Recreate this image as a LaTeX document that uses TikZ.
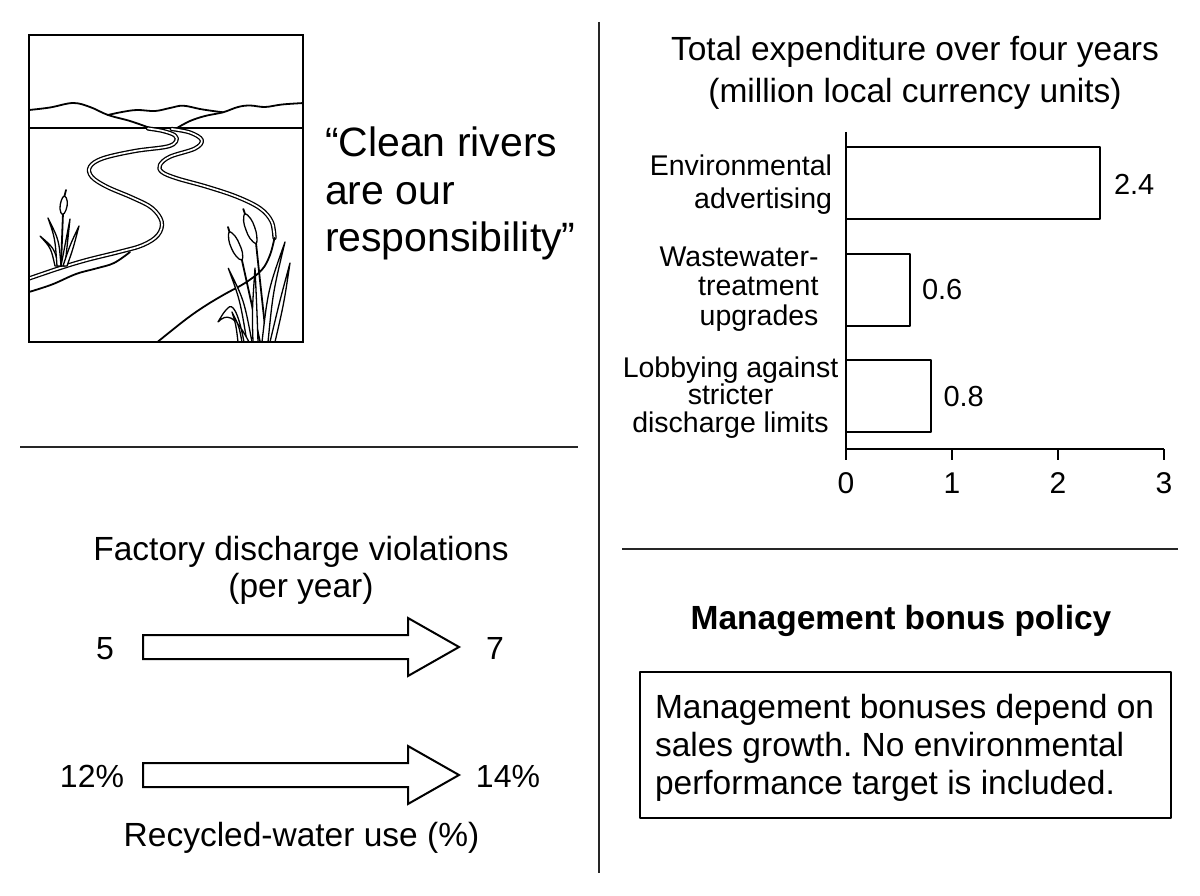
\documentclass[tikz,border=0pt]{standalone}
\usepackage{fontspec}
\setmainfont{Liberation Sans}
\newcommand{\fsz}[1]{\fontsize{#1}{#1}\selectfont}
\frenchspacing
\begin{document}
\begin{tikzpicture}[x=1pt,y=-1pt,line join=round,line cap=round]
\tikzset{
  txt/.style={inner sep=0pt,outer sep=0pt},
  quote/.style={txt,font=\fsz{41},anchor=base west},
  ttl/.style={txt,font=\fsz{33.5},anchor=base},
  cat/.style={txt,font=\fsz{28.5}},
  val/.style={txt,font=\fsz{29},anchor=base west},
  tick/.style={txt,font=\fsz{30},anchor=base},
  num/.style={txt,font=\fsz{32},anchor=base},
  boxtext/.style={txt,font=\fsz{33.5},anchor=base west},
  bar/.style={draw,line width=2pt,fill=white},
  axisline/.style={line width=2pt,line cap=butt},
  divider/.style={line width=1.6pt,draw=black!85,line cap=butt},
  blockarrow/.style={draw,line width=2pt,fill=white,line join=miter},
  art/.style={line width=1.8pt},
  bank/.style={line width=1.3pt,double=white,double distance=1.7pt},
  leaf/.style={line width=1.3pt,fill=white},
}
\useasboundingbox (0,0) rectangle (1200,896);
\fill[white] (0,0) rectangle (1200,896);

% ---------- dividers ----------
\draw[divider] (599,22) -- (599,873);
\draw[divider] (20,447) -- (578,447);
\draw[divider] (622,549) -- (1178,549);

% ---------- landscape ----------
\begin{scope}
\clip (29,35) rectangle (303,342);
% mountains
\draw[art] plot[smooth,tension=0.6] coordinates {(29,110) (50,107.5) (73,103) (90,107) (108,115) (130,121) (150,128)};
\draw[art] plot[smooth,tension=0.6] coordinates {(108,115) (122,112) (137,110) (155,111) (170,108) (183,105.7) (200,109) (213,111) (223,112.3)};
\draw[art] plot[smooth,tension=0.6] coordinates {(177,128) (190,121) (205,116) (223,112.3) (238,107) (250,105.5) (265,107) (282,104.5) (304,103)};
% horizon
\draw[art] (29,128.3) -- (303,128.3);
% river left bank
\draw[bank] plot[smooth,tension=0.6] coordinates {(148,128.5) (163,131) (175,135.5) (176,141.5) (166.7,146.7) (135,151) (103,158.3) (90,166.7) (91.7,176.7) (106.7,186.7) (133,198) (152,208) (161.7,221.7) (158,235) (143,245) (120,251.7) (86.7,260) (60,268) (29,278.5)};
% lower left shore
\draw[art] plot[smooth,tension=0.6] coordinates {(29,292) (52,284.5) (76,274) (96,268.5) (114,263) (130,252)};
% river right bank (double part)
\draw[bank] plot[smooth,tension=0.6] coordinates {(171.7,129) (190,132.5) (201.7,140) (195,148.5) (170,156.7) (160,165) (162,172) (176.7,178.3) (206.7,186.7) (236.7,196.7) (260,208.3) (271.7,221.7) (274.5,238)};
% right bank single part
\draw[art] plot[smooth,tension=0.6] coordinates {(274.5,238) (270,255) (261.7,270) (245,283) (225,294) (205,306) (185,320) (155,344)};
% left cattail
\draw[art] (63,213) .. controls (62.5,240) .. (61,266);
\draw[leaf] plot[smooth cycle,tension=0.7] coordinates {(64.5,196) (67.3,201.5) (66,210) (62.5,214.5) (60,209) (61.3,200.5)};
\draw[art] (64.5,196) -- (66,190);
\draw[leaf] (55,266) .. controls (51,248) .. (40,236) .. controls (54,248) .. (59,266) -- cycle;
\draw[leaf] (57,266) .. controls (55,238) .. (48,218) .. controls (59,240) .. (61,266) -- cycle;
\draw[leaf] (61,266) .. controls (66,240) .. (70,219) .. controls (68,243) .. (65,266) -- cycle;
\draw[leaf] (63,266) .. controls (70,245) .. (79,226) .. controls (73,249) .. (67,266) -- cycle;
% right cattails: stems
\draw[art] (256,243) .. controls (261,290) .. (266.7,342);
\draw[art] (241.7,259) .. controls (250,300) .. (260,342);
% heads
\draw[leaf] plot[smooth cycle,tension=0.7] coordinates {(245,214) (250.6,218.6) (254.6,227) (256.8,236) (256,243.3) (250,238.4) (246,230) (243.6,221)};
\draw[art] (245,214) -- (243.3,209);
\draw[leaf] plot[smooth cycle,tension=0.7] coordinates {(229.5,232) (235.3,236.4) (239.6,244.5) (242.5,253) (241.7,260) (236,256) (231.4,248.1) (228.7,239.3)};
\draw[art] (229.5,232) -- (228,227);
% right leaves
\draw[leaf] (247,342) .. controls (240,300) .. (228.3,268.3) .. controls (244,300) .. (252,342) -- cycle;
\draw[leaf] (244,342) .. controls (238,310) and (232,303) .. (228,308) .. controls (224,312) .. (218,322) .. controls (226,314) and (234,313) .. (249,342) -- cycle;
\draw[leaf] (253,342) .. controls (252,312) .. (255,268) .. controls (257,312) .. (258,342) -- cycle;
\draw[leaf] (262,342) .. controls (268,290) .. (285,242) .. controls (273,292) .. (268,342) -- cycle;
\draw[leaf] (270,342) .. controls (280,300) .. (290,263) .. controls (284,303) .. (275,342) -- cycle;
\draw[leaf] (238,342) .. controls (236,325) .. (232,312) .. controls (239,326) .. (242,342) -- cycle;
\end{scope}
\draw[line width=2.5pt,line join=miter] (29,35) rectangle (303,342);

% ---------- quote ----------
\node[quote] (q1) at (325,157) {“Clean rivers};
\node[quote] (q2) at (325,205) {are our};
\node[quote] (q3) at (325,252) {responsibility”};

% ---------- chart ----------
\node[ttl] (t1) at (915,61) {Total expenditure over four years};
\node[ttl] (t2) at (915,103) {(million local currency units)};

\draw[bar] (846,147.3) rectangle (1100.4,219.3);
\draw[bar] (846,254) rectangle (909.6,326);
\draw[bar] (846,359.5) rectangle (930.8,431.5);
\draw[axisline] (846,132) -- (846,460);
\draw[axisline] (845,449) -- (1164,449);
\foreach \i in {1,2,3} \draw[axisline] ({846+106*\i},449) -- ({846+106*\i},460);
\foreach \i in {0,...,3} \node[tick] (tick\i) at ({846+106*\i},493) {\i};

\node[val] (v1) at (1114,195) {2.4};
\node[val] (v2) at (922,300) {0.6};
\node[val] (v3) at (943.5,406) {0.8};

\node[cat,anchor=base east] (c1a) at (832,175.7) {Environmental};
\node[cat,anchor=base east] (c1b) at (832,208.3) {advertising};
\node[cat,anchor=base east] (c2a) at (818.5,266) {Wastewater-};
\node[cat,anchor=base east] (c2b) at (818.5,295.5) {treatment};
\node[cat,anchor=base east] (c2c) at (818.5,325) {upgrades};
\node[cat,anchor=base] (c3a) at (730.5,377) {Lobbying against};
\node[cat,anchor=base] (c3b) at (730.5,404.5) {stricter};
\node[cat,anchor=base] (c3c) at (730.5,432) {discharge limits};

% ---------- violations / recycled ----------
\node[ttl] (f1) at (301,560) {Factory discharge violations};
\node[ttl] (f2) at (301,597) {(per year)};
\draw[blockarrow] (143,635) -- (408,635) -- (408,618) -- (459,647) -- (408,676) -- (408,659) -- (143,659) -- cycle;
\node[num] (n5) at (105,659) {5};
\node[num] (n7) at (495,659) {7};
\draw[blockarrow] (143,763) -- (408,763) -- (408,746) -- (459,775) -- (408,804) -- (408,787) -- (143,787) -- cycle;
\node[num] (n12) at (92,787) {12\%};
\node[num] (n14) at (508,787) {14\%};
\node[ttl] (r1) at (301.5,846.7) {Recycled-water use (\%)};

% ---------- bonus policy ----------
\node[ttl,font=\fsz{33.5}\bfseries] (mbp) at (901,629) {Management bonus policy};
\node[draw,line width=1.6pt,minimum width=531pt,minimum height=146pt,inner sep=0pt] (pbox) at (905.5,745) {};
\node[boxtext] (b1) at (655,718) {Management bonuses depend on};
\node[boxtext] (b2) at (655,756) {sales growth. No environmental};
\node[boxtext] (b3) at (655,794) {performance target is included.};
\end{tikzpicture}
\end{document}
